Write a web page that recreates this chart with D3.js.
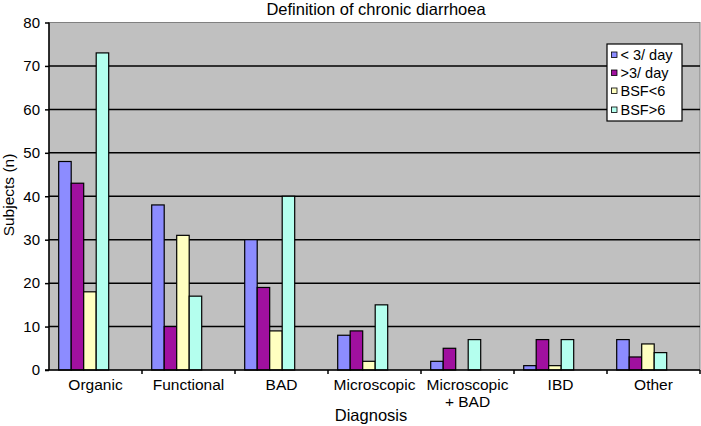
<!DOCTYPE html>
<html><head><meta charset="utf-8">
<script src="https://cdn.jsdelivr.net/npm/d3@7"></script>
<style>body{margin:0;background:#fff;} text{font-family:"Liberation Sans",Arial,sans-serif;fill:#000;}</style>
</head><body>
<svg id="c" width="701" height="426"></svg>
<script>
const categories = ["Organic","Functional","BAD","Microscopic","Microscopic\n+ BAD","IBD","Other"];
const seriesNames = ["< 3/ day",">3/ day","BSF<6","BSF>6"];
const lt3day = [48,38,30,8,2,1,7];
const gt3day = [43,10,19,9,5,7,3];
const bsfLt6 = [18,31,9,2,0,1,6];
const bsfGt6 = [73,17,40,15,7,7,4];
const yTicks = [0,10,20,30,40,50,60,70,80];
const colors = ["#8C8CFF","#A0109F","#FFFFC0","#B4FFEE"];
const seriesVals = [lt3day,gt3day,bsfLt6,bsfGt6];

const svg = d3.select("#c");
const L=49, R=700, T=22.5, B=370;
const x = d3.scaleBand().domain(categories).range([L,R]).padding(0);
const y = d3.scaleLinear().domain([0,80]).range([B,T]);
const xs = d3.scaleBand().domain(seriesNames).range([9.7, 9.7+50]).padding(0);

svg.append("rect").attr("x",L).attr("y",T).attr("width",R-L).attr("height",B-T).attr("fill","#C0C0C0").attr("stroke","#808080").attr("stroke-width",1);

// gridlines
svg.append("g").selectAll("line").data(yTicks.filter(d=>d>0 && d<80)).join("line")
  .attr("x1",L).attr("x2",R).attr("y1",d=>y(d)).attr("y2",d=>y(d))
  .attr("stroke","#000").attr("stroke-width",1.5);

// bars
seriesNames.forEach((s,si)=>{
  svg.append("g").selectAll("rect").data(categories.map((c,i)=>({c,v:seriesVals[si][i]})).filter(d=>d.v>0)).join("rect")
    .attr("x",d=>x(d.c)+xs(s)).attr("width",xs.bandwidth())
    .attr("y",d=>y(d.v)).attr("height",d=>B-y(d.v))
    .attr("fill",colors[si]).attr("stroke","#000").attr("stroke-width",1.2);
});

// y axis
const ya = d3.axisLeft(y).tickValues(yTicks).tickSize(4).tickPadding(5);
const gy = svg.append("g").attr("transform",`translate(${L},0)`).call(ya);
gy.selectAll("text").style("font-size","15px").style("font-family","Liberation Sans, Arial, sans-serif");
gy.selectAll("line,path").attr("stroke","#000").attr("stroke-width",1.5);
gy.select(".domain").attr("d",`M0,${T}V${B}`);

// x axis
const gx = svg.append("g").attr("transform",`translate(0,${B})`);
gx.append("line").attr("x1",L-4).attr("x2",R).attr("y1",0).attr("y2",0).attr("stroke","#000").attr("stroke-width",1.5);
gx.selectAll("line.t").data(categories.slice(1).concat(["__end"])).join("line").attr("class","t")
  .attr("x1",(d,i)=>L+(i+1)*x.bandwidth()).attr("x2",(d,i)=>L+(i+1)*x.bandwidth())
  .attr("y1",0).attr("y2",4).attr("stroke","#000").attr("stroke-width",1.5);
const xl = gx.selectAll("text.lab").data(categories).join("text").attr("class","lab")
  .attr("x",d=>x(d)+x.bandwidth()/2).attr("y",20).attr("text-anchor","middle").style("font-size","15.5px");
xl.each(function(d){
  const lines=d.split("\n");
  d3.select(this).selectAll("tspan").data(lines).join("tspan")
    .attr("x",x(d)+x.bandwidth()/2).attr("dy",(l,i)=>i===0?0:17).text(l=>l);
});

// titles
svg.append("text").attr("x",376).attr("y",15).attr("text-anchor","middle").style("font-size","16.5px").text("Definition of chronic diarrhoea");
svg.append("text").attr("x",371).attr("y",421).attr("text-anchor","middle").style("font-size","16.5px").text("Diagnosis");
svg.append("text").attr("transform","translate(14,195) rotate(-90)").attr("text-anchor","middle").style("font-size","15.5px").text("Subjects (n)");

// legend
const lg = svg.append("g");
lg.append("rect").attr("x",607).attr("y",44).attr("width",75).attr("height",77).attr("fill","#fff").attr("stroke","#000").attr("stroke-width",1.2);
const ly=[55,73,91,110];
seriesNames.forEach((s,i)=>{
  lg.append("rect").attr("x",611.5).attr("y",ly[i]-3).attr("width",5.5).attr("height",5.5).attr("fill",colors[i]).attr("stroke","#000").attr("stroke-width",0.8);
  lg.append("text").attr("x",620.5).attr("y",ly[i]+5).style("font-size","14.5px").text(s);
});
</script>
</body></html>
